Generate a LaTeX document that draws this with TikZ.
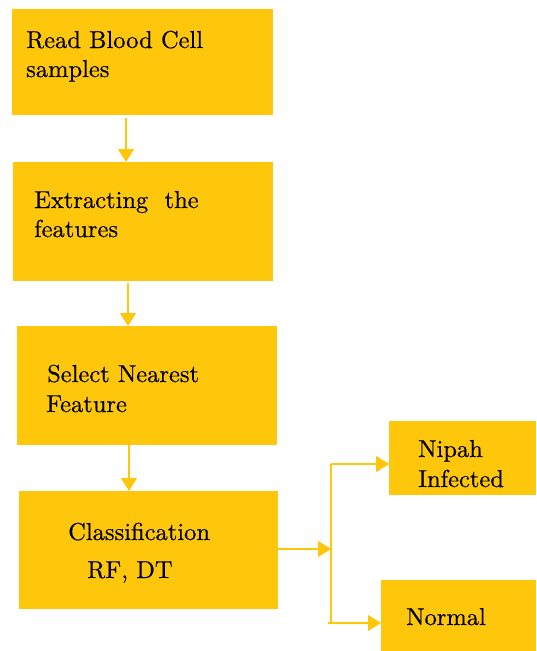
\documentclass[tikz,border=0pt]{standalone}
\usepackage{fontspec}
\newfontfamily\lmten{lmroman10-regular.otf}[FakeBold=0.4]
\usetikzlibrary{arrows.meta}
\definecolor{boxyellow}{RGB}{255,199,11}
\tikzset{
  box/.style={fill=boxyellow, draw=none, inner sep=0pt, anchor=north west},
  lbl/.style={anchor=base west, inner sep=0pt, font=\lmten\fontsize{24.5}{29}\selectfont, text=black},
  conn/.style={draw=boxyellow, line width=1.5pt},
  arr/.style={conn, -{Triangle[length=13pt,width=16pt]}}
}
\begin{document}
\begin{tikzpicture}[x=1pt,y=-1pt]
\useasboundingbox (0,0) rectangle (536,651);
% boxes
\node[box, minimum width=261pt, minimum height=106pt] (b1) at (12,9) {};
\node[box, minimum width=260pt, minimum height=119pt] (b2) at (13,162) {};
\node[box, minimum width=260pt, minimum height=119pt] (b3) at (17,326) {};
\node[box, minimum width=259pt, minimum height=118pt] (b4) at (19,491) {};
\node[box, minimum width=147pt, minimum height=74pt] (n1) at (389,421) {};
\node[box, minimum width=155pt, minimum height=71pt] (n2) at (381,580) {};
% texts
\node[lbl] (t1a) at (26,48) {Read Blood Cell};
\node[lbl] (t1b) at (26,77) {samples};
\node[lbl] (t2a) at (34,208) {Extracting\ \ the};
\node[lbl] (t2b) at (34,237) {features};
\node[lbl] (t3a) at (47,382) {Select Nearest};
\node[lbl] (t3b) at (46,412) {Feature};
\node[lbl] (t4a) at (68,540) {Classification};
\node[lbl] (t4b) at (87,578) {RF, DT};
\node[lbl] (t5a) at (418,457) {Nipah};
\node[lbl] (t5b) at (418,487) {Infected};
\node[lbl] (t6) at (406,625) {Normal};
% connectors
\coordinate (j) at (331,549);
\coordinate (jt) at (331,464);
\coordinate (jb) at (331,623);
\coordinate (jbs) at (328,623);
\draw[arr, shorten <=3pt] (b1.south -| 126,0) -- (b2.north -| 126,0);
\draw[arr, shorten <=2pt] (b2.south -| 128,0) -- (b3.north -| 128,0);
\draw[arr] (b3.south -| 129,0) -- (b4.north -| 129,0);
\draw[arr] (b4.east |- j) -- (j);
\draw[conn] (jt) -- (jb);
\draw[arr] (jt) -- (n1.west |- jt);
\draw[arr] (jbs) -- (n2.west |- jb);
\end{tikzpicture}
\end{document}
